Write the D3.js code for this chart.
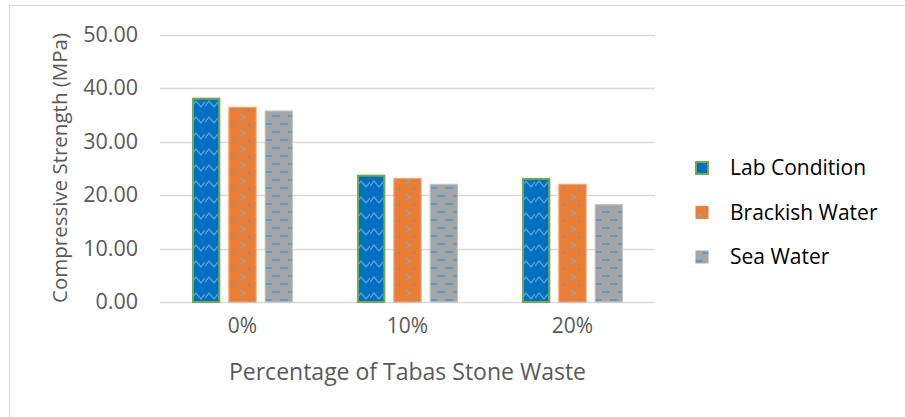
<!DOCTYPE html>
<html>
<head>
<meta charset="utf-8">
<script src="https://cdn.jsdelivr.net/npm/d3@7"></script>
<style>
	body { margin: 0; background: #fff; }
	text { font-family: "Open Sans", sans-serif; }
</style>
</head>
<body>
<svg id="chart"></svg>
<script>
var categories = ['0%', '10%', '20%'];
var seriesNames = ['Lab Condition', 'Brackish Water', 'Sea Water'];
var labValues = [38.2, 23.8, 23.2];
var brackishValues = [36.5, 23.2, 22.1];
var seaValues = [35.8, 22.1, 18.3];
var yTicks = [0, 10, 20, 30, 40, 50];

var seriesValues = [labValues, brackishValues, seaValues];

var width = 905,
	height = 417;

// plot area
var margin = {top: 34.5, right: 250, bottom: 115, left: 160};

var svg = d3.select('#chart')
	.attr('width', width)
	.attr('height', height);

// chart border (only left + top are inside the frame)
svg.append('rect')
	.attr('x', 9.5)
	.attr('y', 5.5)
	.attr('width', 1000)
	.attr('height', 1000)
	.style('fill', 'none')
	.style('stroke', '#d9d9d9')
	.style('stroke-width', 1);

var defs = svg.append('defs');

// lab: blue with zigzag
var labPattern = defs.append('pattern')
	.attr('id', 'pat-lab')
	.attr('patternUnits', 'userSpaceOnUse')
	.attr('width', 13)
	.attr('height', 16);
labPattern.append('rect').attr('width', 13).attr('height', 16).style('fill', '#0070c0');
labPattern.append('path')
	.attr('d', 'M0,10 L4,5 L9,11 L13,6')
	.style('fill', 'none')
	.style('stroke', '#5a9edc')
	.style('stroke-width', 1.4);

// brackish: orange with grey chevrons + blue dots
var brPattern = defs.append('pattern')
	.attr('id', 'pat-brackish')
	.attr('patternUnits', 'userSpaceOnUse')
	.attr('width', 15)
	.attr('height', 16);
brPattern.append('rect').attr('width', 15).attr('height', 16).style('fill', '#ed7d31');
brPattern.append('path')
	.attr('d', 'M3,1.5 L8,5 L3,8.5')
	.style('fill', 'none')
	.style('stroke', '#a39c98')
	.style('stroke-width', 1.8);
brPattern.append('rect')
	.attr('x', 11).attr('y', 12).attr('width', 2).attr('height', 2)
	.style('fill', '#5b9bd5');

// sea: grey with blue dashes
var seaPattern = defs.append('pattern')
	.attr('id', 'pat-sea')
	.attr('patternUnits', 'userSpaceOnUse')
	.attr('width', 16)
	.attr('height', 16);
seaPattern.append('rect').attr('width', 16).attr('height', 16).style('fill', '#a5a5a5');
seaPattern.append('rect').attr('x', 0).attr('y', 3).attr('width', 8).attr('height', 2).style('fill', '#5b9bd5');
seaPattern.append('rect').attr('x', 8).attr('y', 11).attr('width', 8).attr('height', 2).style('fill', '#5b9bd5');

var fills = ['url(#pat-lab)', 'url(#pat-brackish)', 'url(#pat-sea)'];
var strokes = ['#70ad47', '#f4a875', '#c4c4c4'];
var strokeWidths = [2, 1, 1];

var x0 = d3.scaleBand()
	.domain(categories)
	.range([margin.left, width - margin.right])
	.paddingInner(0.388)
	.paddingOuter(0.194);

var x1 = d3.scaleBand()
	.domain(seriesNames)
	.range([0, x0.bandwidth()])
	.paddingInner(0.22);

var y = d3.scaleLinear()
	.domain([0, 50])
	.range([302, margin.top]);

// gridlines
svg.append('g')
	.selectAll('line')
	.data(yTicks)
	.enter()
	.append('line')
	.attr('x1', margin.left)
	.attr('x2', width - margin.right)
	.attr('y1', function(d) { return Math.round(y(d)) + 0.5; })
	.attr('y2', function(d) { return Math.round(y(d)) + 0.5; })
	.style('stroke', '#d9d9d9')
	.style('stroke-width', 1.3);

// y tick labels
var yAxis = svg.append('g')
	.attr('transform', 'translate(' + 138 + ',0)')
	.call(d3.axisLeft(y).tickValues(yTicks).tickSize(0).tickPadding(0).tickFormat(d3.format('.2f')));
yAxis.select('.domain').remove();
yAxis.selectAll('text')
	.style('font-family', '"Open Sans", sans-serif')
	.style('font-size', '21.5px')
	.style('fill', '#595959');

// x tick labels
var xAxis = svg.append('g')
	.attr('transform', 'translate(0,' + 318 + ')')
	.call(d3.axisBottom(x0).tickSize(0).tickPadding(0));
xAxis.select('.domain').remove();
xAxis.selectAll('text')
	.style('font-family', '"Open Sans", sans-serif')
	.style('font-size', '21px')
	.style('fill', '#595959');

// bars
var group = svg.selectAll('.cat')
	.data(categories)
	.enter()
	.append('g')
	.attr('class', 'cat')
	.attr('transform', function(d) { return 'translate(' + x0(d) + ',0)'; });

group.selectAll('rect')
	.data(function(d, i) {
		return seriesNames.map(function(s, j) { return {series: s, j: j, value: seriesValues[j][i]}; });
	})
	.enter()
	.append('rect')
	.attr('x', function(d) { return x1(d.series) + strokeWidths[d.j] / 2; })
	.attr('width', function(d) { return x1.bandwidth() - strokeWidths[d.j]; })
	.attr('y', function(d) { return y(d.value) + strokeWidths[d.j] / 2; })
	.attr('height', function(d) { return y(0) - y(d.value) - strokeWidths[d.j] / 2; })
	.style('fill', function(d) { return fills[d.j]; })
	.style('stroke', function(d) { return strokes[d.j]; })
	.style('stroke-width', function(d) { return strokeWidths[d.j]; });

// axis titles
svg.append('text')
	.attr('transform', 'translate(' + 67 + ',' + 168 + ') rotate(-90)')
	.attr('text-anchor', 'middle')
	.style('font-size', '20.5px')
	.style('fill', '#595959')
	.text('Compressive Strength (MPa)');

svg.append('text')
	.attr('x', (margin.left + width - margin.right) / 2)
	.attr('y', 380)
	.attr('text-anchor', 'middle')
	.style('font-size', '23px')
	.style('fill', '#595959')
	.text('Percentage of Tabas Stone Waste');

// legend
var legend = svg.selectAll('.legend-item')
	.data(seriesNames)
	.enter()
	.append('g')
	.attr('class', 'legend-item')
	.attr('transform', function(d, i) { return 'translate(' + 695 + ',' + (168 + i * 44.5) + ')'; });

legend.append('rect')
	.attr('x', function(d, i) { return strokeWidths[i] / 2; })
	.attr('y', function(d, i) { return -7 + strokeWidths[i] / 2; })
	.attr('width', function(d, i) { return 14 - strokeWidths[i]; })
	.attr('height', function(d, i) { return 14 - strokeWidths[i]; })
	.style('fill', function(d, i) { return fills[i]; })
	.style('stroke', function(d, i) { return i === 0 ? strokes[0] : 'none'; })
	.style('stroke-width', function(d, i) { return strokeWidths[i]; });

legend.append('text')
	.attr('x', 35)
	.attr('dy', '0.35em')
	.style('font-size', '21px')
	.style('fill', '#000')
	.text(function(d) { return d; });
</script>
</body>
</html>
